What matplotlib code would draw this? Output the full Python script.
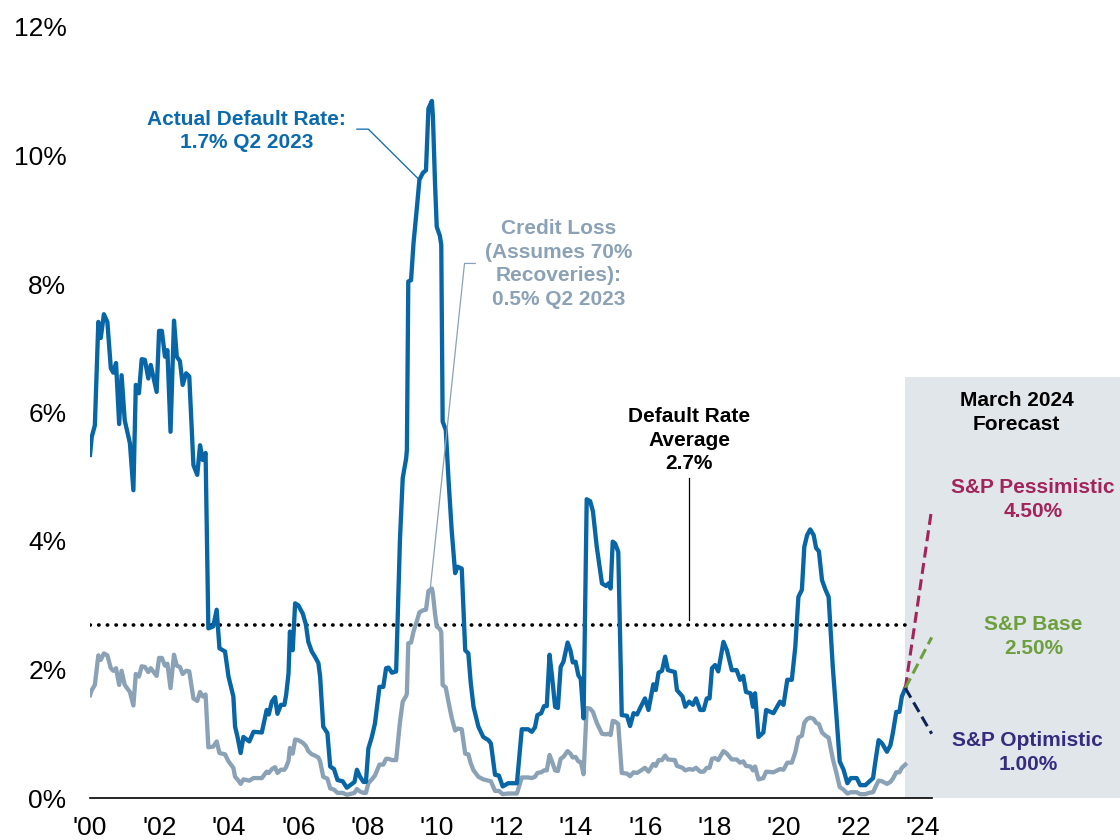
import matplotlib
matplotlib.use("Agg")
import matplotlib.pyplot as plt
from matplotlib.patches import Rectangle

plt.rcParams['font.family'] = ['Liberation Sans', 'DejaVu Sans']

# decimal year of each reading
dates = [2000.00, 2000.05, 2000.14, 2000.24, 2000.31, 2000.40, 2000.50, 2000.60, 2000.67, 2000.75,
         2000.84, 2000.91, 2001.00, 2001.15, 2001.25, 2001.32, 2001.41, 2001.49, 2001.58, 2001.68,
         2001.75, 2001.92, 2001.99, 2002.07, 2002.16, 2002.23, 2002.32, 2002.42, 2002.50, 2002.59,
         2002.67, 2002.77, 2002.86, 2002.98, 2003.09, 2003.17, 2003.25, 2003.33, 2003.41, 2003.55,
         2003.65, 2003.73, 2003.89, 2003.99, 2004.13, 2004.18, 2004.25, 2004.34, 2004.42, 2004.59,
         2004.71, 2004.95, 2005.09, 2005.15, 2005.24, 2005.33, 2005.40, 2005.50, 2005.60, 2005.65,
         2005.72, 2005.76, 2005.84, 2005.91, 2006.00, 2006.13, 2006.22, 2006.29, 2006.39, 2006.48,
         2006.58, 2006.63, 2006.72, 2006.84, 2006.92, 2007.03, 2007.13, 2007.28, 2007.40, 2007.55,
         2007.62, 2007.69, 2007.78, 2007.88, 2007.95, 2008.02, 2008.12, 2008.21, 2008.34, 2008.45,
         2008.53, 2008.60, 2008.70, 2008.82, 2008.93, 2009.01, 2009.11, 2009.13, 2009.17, 2009.25,
         2009.32, 2009.42, 2009.49, 2009.59, 2009.68, 2009.75, 2009.85, 2009.88, 2009.94, 2009.99,
         2010.08, 2010.12, 2010.16, 2010.25, 2010.33, 2010.42, 2010.52, 2010.59, 2010.71, 2010.81,
         2010.90, 2010.97, 2011.05, 2011.19, 2011.33, 2011.48, 2011.55, 2011.67, 2011.78, 2011.89,
         2012.05, 2012.30, 2012.44, 2012.62, 2012.73, 2012.82, 2012.89, 2013.00, 2013.08, 2013.16,
         2013.24, 2013.31, 2013.40, 2013.48, 2013.56, 2013.64, 2013.76, 2013.84, 2013.91, 2013.99,
         2014.07, 2014.14, 2014.22, 2014.31, 2014.41, 2014.49, 2014.60, 2014.75, 2014.87, 2014.94,
         2015.00, 2015.06, 2015.13, 2015.22, 2015.32, 2015.47, 2015.56, 2015.66, 2015.76, 2015.85,
         2015.99, 2016.09, 2016.23, 2016.30, 2016.38, 2016.48, 2016.57, 2016.65, 2016.85, 2016.91,
         2017.07, 2017.15, 2017.26, 2017.37, 2017.46, 2017.58, 2017.68, 2017.77, 2017.85, 2017.92,
         2018.01, 2018.10, 2018.25, 2018.35, 2018.49, 2018.63, 2018.73, 2018.82, 2018.90, 2019.03,
         2019.10, 2019.16, 2019.26, 2019.40, 2019.48, 2019.69, 2019.88, 2019.98, 2020.09, 2020.22,
         2020.32, 2020.41, 2020.51, 2020.58, 2020.66, 2020.75, 2020.85, 2020.92, 2021.00, 2021.09,
         2021.19, 2021.28, 2021.40, 2021.50, 2021.60, 2021.71, 2021.82, 2021.92, 2022.09, 2022.19,
         2022.34, 2022.44, 2022.56, 2022.62, 2022.72, 2022.82, 2022.96, 2023.06, 2023.13, 2023.23,
         2023.32, 2023.39, 2023.49]

default_rate = [5.34, 5.62, 5.80, 7.41, 7.16, 7.53, 7.41, 6.69, 6.62, 6.77,
                5.82, 6.58, 5.88, 5.52, 4.79, 6.43, 6.30, 6.83, 6.82, 6.53,
                6.74, 6.32, 7.27, 7.27, 6.87, 6.97, 5.70, 7.43, 6.87, 6.80,
                6.43, 6.61, 6.56, 5.18, 5.03, 5.49, 5.26, 5.37, 2.64, 2.67,
                2.93, 2.33, 2.28, 1.89, 1.58, 1.11, 0.95, 0.70, 0.95, 0.88,
                1.03, 1.02, 1.37, 1.30, 1.50, 1.57, 1.31, 1.45, 1.45, 1.60,
                1.94, 2.59, 2.30, 3.03, 3.00, 2.87, 2.70, 2.43, 2.28, 2.20,
                2.10, 1.89, 1.11, 1.01, 0.49, 0.45, 0.28, 0.26, 0.16, 0.22,
                0.25, 0.44, 0.33, 0.25, 0.25, 0.77, 0.95, 1.16, 1.73, 1.73,
                2.02, 2.03, 1.95, 1.97, 4.02, 4.98, 5.29, 5.42, 8.04, 8.06,
                8.63, 9.20, 9.62, 9.73, 9.77, 10.73, 10.85, 10.60, 9.57, 8.89,
                8.75, 8.61, 5.86, 5.73, 4.95, 4.17, 3.50, 3.60, 3.57, 2.30,
                2.25, 1.79, 1.42, 1.11, 0.95, 0.90, 0.85, 0.36, 0.35, 0.18,
                0.23, 0.23, 1.07, 1.07, 1.03, 1.10, 1.29, 1.32, 1.43, 1.43,
                2.23, 1.90, 1.42, 1.40, 2.04, 2.12, 2.42, 2.30, 2.11, 2.12,
                1.91, 1.85, 1.24, 4.65, 4.62, 4.46, 3.91, 3.34, 3.30, 3.34,
                3.26, 3.99, 3.96, 3.83, 1.29, 1.28, 1.12, 1.32, 1.30, 1.40,
                1.55, 1.37, 1.77, 1.68, 1.95, 1.98, 2.20, 1.99, 1.96, 1.68,
                1.58, 1.42, 1.50, 1.45, 1.55, 1.37, 1.37, 1.55, 1.55, 2.02,
                2.07, 1.97, 2.43, 2.30, 1.99, 1.99, 1.84, 1.90, 1.65, 1.63,
                1.42, 1.63, 0.95, 1.02, 1.37, 1.32, 1.50, 1.45, 1.84, 1.84,
                2.35, 3.13, 3.24, 3.91, 4.09, 4.18, 4.09, 3.89, 3.84, 3.39,
                3.24, 3.13, 2.04, 1.32, 0.57, 0.44, 0.23, 0.31, 0.31, 0.20,
                0.20, 0.25, 0.31, 0.54, 0.90, 0.85, 0.72, 0.82, 1.01, 1.34,
                1.34, 1.58, 1.71]

credit_loss = [1.60, 1.68, 1.76, 2.22, 2.15, 2.25, 2.22, 2.02, 1.98, 2.02,
               1.76, 1.98, 1.76, 1.65, 1.44, 1.93, 1.89, 2.05, 2.04, 1.96,
               2.02, 1.90, 2.18, 2.18, 2.06, 2.09, 1.71, 2.23, 2.06, 2.04,
               1.93, 1.98, 1.97, 1.55, 1.51, 1.65, 1.58, 1.61, 0.79, 0.80,
               0.88, 0.70, 0.68, 0.57, 0.47, 0.33, 0.29, 0.22, 0.29, 0.27,
               0.31, 0.31, 0.41, 0.39, 0.45, 0.48, 0.39, 0.44, 0.44, 0.48,
               0.58, 0.78, 0.69, 0.91, 0.90, 0.86, 0.81, 0.73, 0.68, 0.66,
               0.63, 0.57, 0.33, 0.30, 0.15, 0.13, 0.08, 0.08, 0.05, 0.07,
               0.08, 0.14, 0.10, 0.08, 0.08, 0.23, 0.29, 0.35, 0.52, 0.52,
               0.61, 0.61, 0.59, 0.59, 1.18, 1.50, 1.59, 1.63, 2.41, 2.42,
               2.59, 2.76, 2.89, 2.92, 2.93, 3.22, 3.26, 3.18, 2.87, 2.67,
               2.63, 2.58, 1.76, 1.72, 1.49, 1.25, 1.05, 1.08, 1.07, 0.69,
               0.68, 0.54, 0.43, 0.33, 0.29, 0.27, 0.26, 0.11, 0.11, 0.06,
               0.07, 0.07, 0.32, 0.32, 0.31, 0.33, 0.39, 0.40, 0.43, 0.43,
               0.67, 0.57, 0.43, 0.42, 0.61, 0.64, 0.73, 0.69, 0.63, 0.64,
               0.57, 0.56, 0.37, 1.40, 1.39, 1.34, 1.17, 1.00, 0.99, 1.00,
               0.98, 1.20, 1.19, 1.15, 0.39, 0.38, 0.34, 0.40, 0.39, 0.42,
               0.47, 0.41, 0.53, 0.50, 0.59, 0.59, 0.66, 0.60, 0.59, 0.50,
               0.47, 0.43, 0.45, 0.44, 0.47, 0.41, 0.41, 0.47, 0.47, 0.61,
               0.62, 0.59, 0.73, 0.69, 0.60, 0.60, 0.55, 0.57, 0.50, 0.49,
               0.43, 0.49, 0.29, 0.31, 0.41, 0.40, 0.45, 0.44, 0.55, 0.55,
               0.71, 0.94, 0.97, 1.17, 1.23, 1.25, 1.23, 1.17, 1.15, 1.02,
               0.97, 0.94, 0.61, 0.40, 0.17, 0.13, 0.07, 0.09, 0.09, 0.06,
               0.06, 0.08, 0.09, 0.16, 0.27, 0.26, 0.22, 0.25, 0.30, 0.40,
               0.40, 0.47, 0.52]

average_rate = 2.7
forecast_start = (2023.49, 1.71)
forecast_end = 2024.25
forecast_names = ['S&P Pessimistic', 'S&P Base', 'S&P Optimistic']
forecast_values = [4.50, 2.50, 1.00]

year_ticks = list(range(2000, 2025, 2))
year_labels = ["'%02d" % (y - 2000) for y in year_ticks]
pct_ticks = list(range(0, 13, 2))

blue = '#0866A6'
grey = '#8BA2B6'
line_cols = ['#A3245C', '#6E9F3E', '#0F2456']
text_cols = ['#A3245C', '#6E9F3E', '#352C80']

fig = plt.figure(figsize=(11.2, 8.4), dpi=100)
ax = fig.add_axes([90 / 1120, 42 / 840, 841.7 / 1120, 771 / 840])

# forecast panel
ax.add_patch(Rectangle((2023.49, 0), 7, 6.55, facecolor='#E1E6EB', edgecolor='none',
                       clip_on=False, zorder=0))

ax.plot(dates, credit_loss, color=grey, lw=3.1, zorder=3, solid_joinstyle='round')
ax.plot(dates, default_rate, color=blue, lw=3.1, zorder=4, solid_joinstyle='round')

ax.plot([2000, 2023.5], [average_rate, average_rate], color='black', lw=2.6,
        linestyle=(0, (0.1, 2.3)), dash_capstyle='round', zorder=2)

for val, c in zip(forecast_values, line_cols):
    ax.plot([forecast_start[0], forecast_end], [forecast_start[1], val], color=c, lw=2.2,
            linestyle=(0, (3.6, 1.8)), zorder=5, clip_on=False)

fs = 15
ls = 1.32
ax.text(2004.52, 10.38, 'Actual Default Rate:\n1.7% Q2 2023', color='#0B6AAE', fontsize=fs,
        fontweight='bold', ha='center', va='center', linespacing=ls)
ax.plot([2007.69, 2008.02, 2009.49], [10.41, 10.41, 9.62], color=blue, lw=0.9, zorder=5)

ax.text(2013.5, 8.31, 'Credit Loss\n(Assumes 70%\nRecoveries):\n0.5% Q2 2023', color=grey,
        fontsize=fs, fontweight='bold', ha='center', va='center', linespacing=ls)
ax.plot([2011.10, 2010.79, 2009.80], [8.32, 8.32, 3.24], color=grey, lw=0.9, zorder=5)

ax.text(2017.26, 5.57, 'Default Rate\nAverage\n2.7%', color='black', fontsize=fs,
        fontweight='bold', ha='center', va='center', linespacing=ls)
ax.plot([2017.26, 2017.26], [4.98, 2.77], color='black', lw=0.9, zorder=5)

ax.text(2026.69, 6.0, 'March 2024\nForecast', color='black', fontsize=fs,
        fontweight='bold', ha='center', va='center', linespacing=ls)
label_pos = [(2027.17, 4.65), (2027.18, 2.51), (2027.02, 0.71)]
for name, val, c, (lx, ly) in zip(forecast_names, forecast_values, text_cols, label_pos):
    ax.text(lx, ly, '%s\n%.2f%%' % (name, val), color=c, fontsize=fs, fontweight='bold',
            ha='center', va='center', linespacing=ls)

ax.set_xlim(2000, 2024.25)
ax.set_ylim(0, 12)
ax.set_xticks(year_ticks)
ax.set_xticklabels(year_labels)
ax.set_yticks(pct_ticks)
ax.set_yticklabels(['%d%%' % p for p in pct_ticks])
ax.tick_params(axis='both', length=0, labelsize=19)
ax.tick_params(axis='x', pad=13)
ax.tick_params(axis='y', pad=17)
for s in ['top', 'right', 'left']:
    ax.spines[s].set_visible(False)
ax.spines['bottom'].set_linewidth(1.2)
ax.spines['bottom'].set_zorder(6)
ax.patch.set_alpha(0)

fig.savefig('out.png', dpi=100)
